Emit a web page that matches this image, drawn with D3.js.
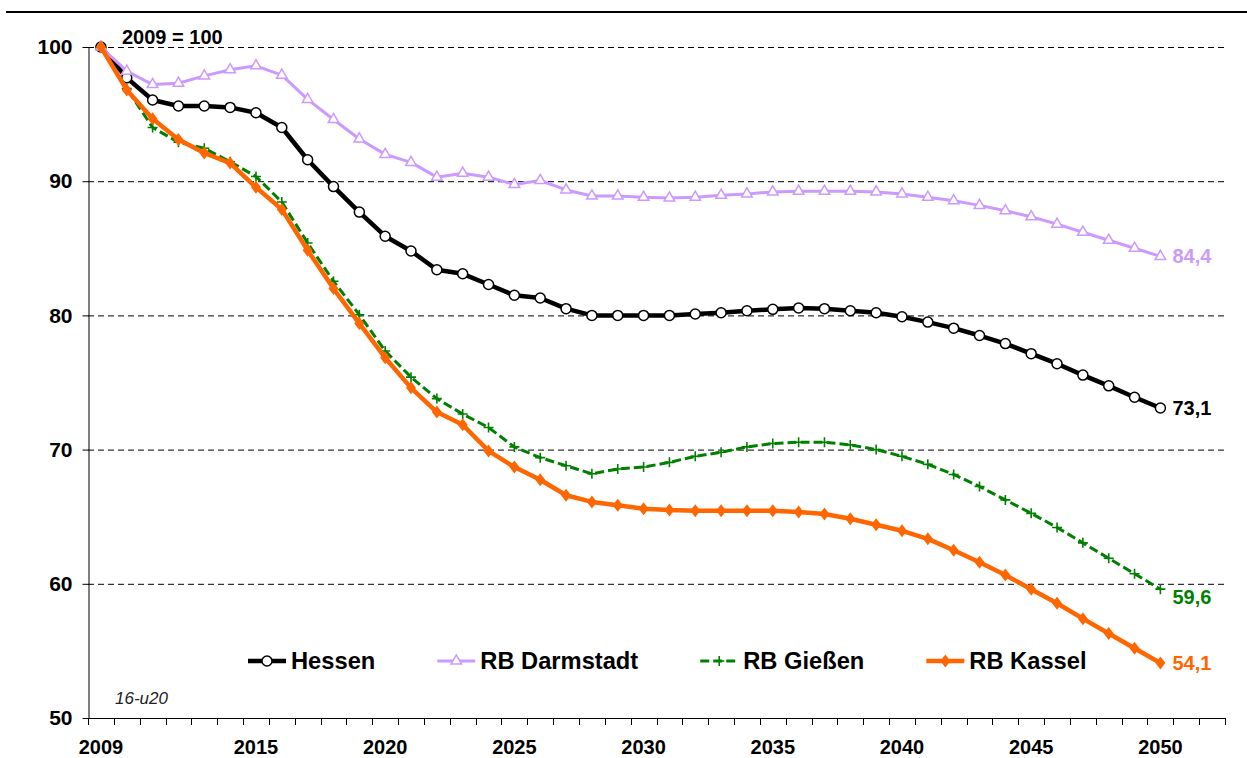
<!DOCTYPE html>
<html><head><meta charset="utf-8">
<script src="https://cdn.jsdelivr.net/npm/d3@7"></script>
<style>html,body{margin:0;padding:0;background:#fff}</style>
</head><body><svg id="c" width="1247" height="758"></svg>
<script>
const years = [2009,2010,2011,2012,2013,2014,2015,2016,2017,2018,2019,2020,2021,2022,2023,2024,2025,2026,2027,2028,2029,2030,2031,2032,2033,2034,2035,2036,2037,2038,2039,2040,2041,2042,2043,2044,2045,2046,2047,2048,2049,2050];
const axisYears = [...years, 2051, 2052];
const xTickLabels = [2009,2015,2020,2025,2030,2035,2040,2045,2050];
const yTicks = [50,60,70,80,90,100];
const seriesNames = ["Hessen","RB Darmstadt","RB Gießen","RB Kassel"];
const hessen = [100,97.7,96.05,95.6,95.6,95.5,95.1,94.0,91.6,89.6,87.7,85.9,84.8,83.4,83.1,82.3,81.5,81.3,80.5,80.0,80.0,80.0,80.0,80.1,80.2,80.35,80.45,80.55,80.5,80.35,80.2,79.9,79.5,79.05,78.5,77.9,77.15,76.4,75.55,74.75,73.9,73.1];
const darmstadt = [100,98.2,97.2,97.3,97.85,98.3,98.6,97.9,96.1,94.6,93.15,92.0,91.4,90.3,90.6,90.3,89.75,90.05,89.35,88.9,88.9,88.8,88.75,88.8,88.95,89.05,89.2,89.25,89.25,89.25,89.2,89.05,88.8,88.55,88.2,87.8,87.35,86.8,86.2,85.6,85.0,84.4];
const giessen = [100,96.9,94.0,92.9,92.45,91.45,90.35,88.45,85.4,82.55,80.05,77.35,75.4,73.8,72.65,71.65,70.2,69.4,68.8,68.2,68.55,68.7,69.05,69.5,69.8,70.2,70.45,70.55,70.55,70.35,70.0,69.5,68.9,68.15,67.25,66.25,65.25,64.2,63.05,61.9,60.75,59.6];
const kassel = [100,96.8,94.65,93.1,92.1,91.35,89.55,87.9,84.85,82.0,79.4,76.85,74.6,72.8,71.85,69.9,68.7,67.75,66.6,66.1,65.85,65.6,65.5,65.45,65.45,65.45,65.45,65.35,65.2,64.85,64.4,63.95,63.35,62.5,61.6,60.65,59.6,58.55,57.4,56.3,55.2,54.1];
const baseLabel = "2009 = 100";
const noteLabel = "16-u20";

const svg = d3.select("#c");
const font = "Arial, 'Liberation Sans', Helvetica, sans-serif";
const x = d3.scaleBand().domain(axisYears).range([88, 1225]).padding(0);
const y = d3.scaleLinear().domain([50, 100]).range([718, 47]);
const cx = d => x(d) + x.bandwidth() / 2;

// top rule
svg.append("line").attr("x1", 6).attr("x2", 1247).attr("y1", 12).attr("y2", 12)
  .attr("stroke", "#000").attr("stroke-width", 2);

// gridlines
svg.append("g").selectAll("line").data(yTicks.filter(v => v > 50)).join("line")
  .attr("x1", 88).attr("x2", 1225).attr("y1", d => y(d) + 0.5).attr("y2", d => y(d) + 0.5)
  .attr("stroke", "#000").attr("stroke-width", 1).attr("stroke-dasharray", "6,4");

// y axis
const yAxis = svg.append("g").attr("transform", "translate(88.5,0)")
  .call(d3.axisLeft(y).tickValues(yTicks).tickSize(6).tickSizeOuter(0).tickPadding(10));
yAxis.select(".domain").attr("stroke", "#000");
yAxis.selectAll(".tick line").attr("stroke", "#000");
yAxis.selectAll("text").attr("font-family", font).attr("font-size", 21).attr("font-weight", "bold").attr("fill", "#000");

// x axis
const xg = svg.append("g");
xg.append("line").attr("x1", 88).attr("x2", 1225).attr("y1", 718.5).attr("y2", 718.5).attr("stroke", "#000");
xg.selectAll("line.t").data([...axisYears.map(d => x(d)), x.range()[1]]).join("line").attr("class", "t")
  .attr("x1", d => Math.round(d) + 0.5).attr("x2", d => Math.round(d) + 0.5)
  .attr("y1", 718).attr("y2", 725).attr("stroke", "#000");
xg.selectAll("text").data(xTickLabels).join("text")
  .attr("x", d => cx(d)).attr("y", 754).attr("text-anchor", "middle")
  .attr("font-family", font).attr("font-size", 20).attr("font-weight", "bold").text(d => d);

// texts
svg.append("text").attr("x", 122).attr("y", 44).attr("font-family", font).attr("font-size", 20)
  .attr("font-weight", "bold").text(baseLabel);
svg.append("text").attr("x", 115).attr("y", 704).attr("font-family", font).attr("font-size", 17)
  .attr("font-style", "italic").attr("fill", "#222").text(noteLabel);

const markers = {
  circle: g => g.append("circle").attr("r", 5).attr("fill", "#fff").attr("stroke", "#000").attr("stroke-width", 1.5),
  triangle: g => g.append("path").attr("d", d3.symbol(d3.symbolTriangle, 48)()).attr("fill", "#fff").attr("stroke", "#CC99FF").attr("stroke-width", 1.5),
  plus: g => g.append("path").attr("d", "M-5,0H5M0,-5V5").attr("stroke", "#008000").attr("stroke-width", 1.6).attr("fill", "none"),
  diamond: g => g.append("path").attr("d", "M0,-6.5L5,0L0,6.5L-5,0Z").attr("fill", "#FF6600")
};

const series = [
  {name: seriesNames[0], values: hessen, color: "#000", width: 4.5, dash: null, marker: "circle", dy: 0},
  {name: seriesNames[1], values: darmstadt, color: "#CC99FF", width: 3, dash: null, marker: "triangle", dy: 0},
  {name: seriesNames[2], values: giessen, color: "#008000", width: 3, dash: "9,4", marker: "plus", dy: 8},
  {name: seriesNames[3], values: kassel, color: "#FF6600", width: 4.5, dash: null, marker: "diamond", dy: 0}
];

const line = d3.line().x((d, i) => cx(years[i])).y(d => y(d));

series.forEach(s => {
  const g = svg.append("g");
  g.append("path").attr("d", line(s.values)).attr("fill", "none").attr("stroke", s.color)
    .attr("stroke-width", s.width).attr("stroke-linejoin", "round")
    .attr("stroke-dasharray", s.dash);
  s.values.forEach((v, i) => {
    const m = g.append("g").attr("transform", `translate(${cx(years[i])},${y(v)})`);
    markers[s.marker](m);
  });
  const last = s.values[s.values.length - 1];
  svg.append("text").attr("x", cx(years[years.length - 1]) + 12).attr("y", y(last) + s.dy)
    .attr("dominant-baseline", "central").attr("font-family", font).attr("font-size", 20)
    .attr("font-weight", "bold").attr("fill", s.color)
    .text(d3.format(".1f")(last).replace(".", ","));
});

// legend
let lx = 248;
const ly = 661;
series.forEach(s => {
  const g = svg.append("g");
  g.append("line").attr("x1", lx).attr("x2", lx + 38).attr("y1", ly).attr("y2", ly)
    .attr("stroke", s.color).attr("stroke-width", s.width).attr("stroke-dasharray", s.dash);
  markers[s.marker](g.append("g").attr("transform", `translate(${lx + 19},${ly})`));
  const t = g.append("text").attr("x", lx + 43).attr("y", ly).attr("dominant-baseline", "central")
    .attr("font-family", font).attr("font-size", 23.7).attr("font-weight", "bold").text(s.name);
  lx += 43 + t.node().getComputedTextLength() + 62;
});
</script></body></html>
